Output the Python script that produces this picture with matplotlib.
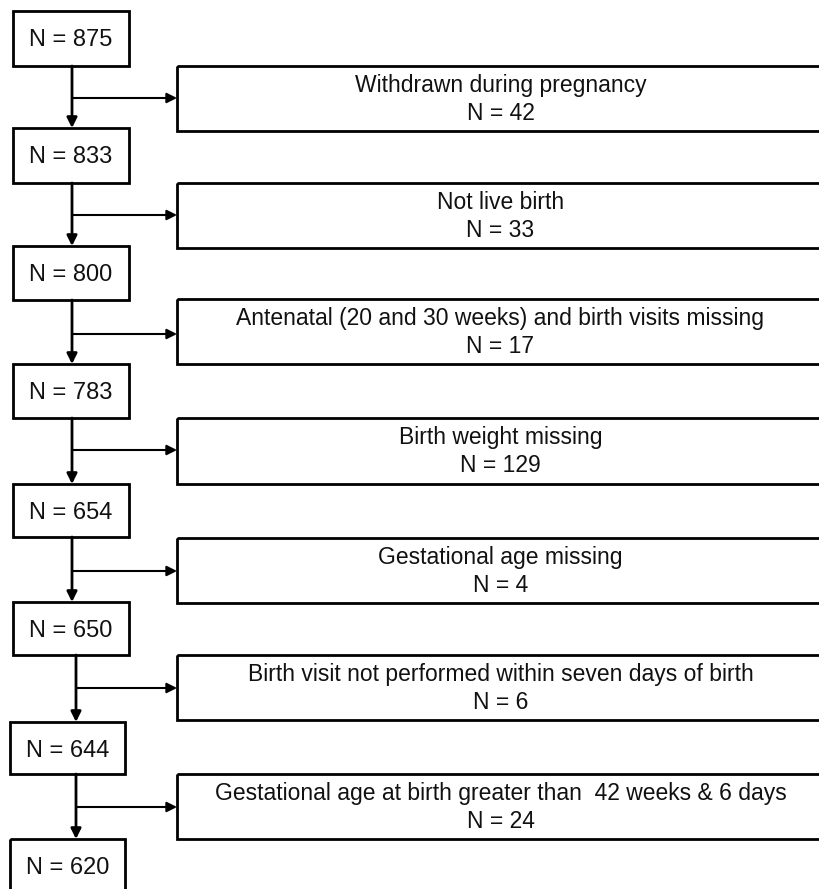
import matplotlib
matplotlib.use("Agg")
import matplotlib.pyplot as plt
from matplotlib.patches import Rectangle, FancyArrowPatch

plt.rcParams['font.family'] = ['Liberation Sans', 'DejaVu Sans']

# ---- data ----
remaining_n = [875, 833, 800, 783, 654, 650, 644, 620]
exclusion_labels = [
    "Withdrawn during pregnancy",
    "Not live birth",
    "Antenatal (20 and 30 weeks) and birth visits missing",
    "Birth weight missing",
    "Gestational age missing",
    "Birth visit not performed within seven days of birth",
    "Gestational age at birth greater than  42 weeks & 6 days",
]
exclusion_n = [42, 33, 17, 129, 4, 6, 24]

# ---- layout (pixel coordinates) ----
W, H = 820, 889
left_top = [11, 128, 246, 364, 484, 602, 722, 839]
left_bot = [66, 183, 300, 418, 537, 655, 774, 900]
left_x0 = [13, 13, 13, 13, 13, 13, 10, 10]
left_x1 = [129, 129, 129, 129, 129, 129, 125, 125]
stem_x = [72, 72, 72, 72, 72, 76, 76]
right_top = [66, 183, 299, 418, 538, 655, 774]
right_bot = [131, 248, 364, 484, 603, 720, 839]
branch_y = [98, 215, 334, 450, 571, 688, 807]
right_x0, right_x1 = 177, 824

fig = plt.figure(figsize=(W / 100, H / 100), dpi=100)
ax = fig.add_axes([0, 0, 1, 1])
ax.set_xlim(0, W)
ax.set_ylim(H, 0)
ax.axis('off')

box_lw = 2.0
for i, n in enumerate(remaining_n):
    x0, x1 = left_x0[i], left_x1[i]
    y0, y1 = left_top[i], left_bot[i]
    ax.add_patch(Rectangle((x0, y0), x1 - x0, y1 - y0, fill=False,
                           edgecolor='black', lw=box_lw, clip_on=True))
    ax.text((x0 + x1) / 2, y0 + 35, f"N = {n}", ha='center', va='baseline',
            fontsize=17, color='#111111')

for i, (lab, n) in enumerate(zip(exclusion_labels, exclusion_n)):
    y0, y1 = right_top[i], right_bot[i]
    ax.add_patch(Rectangle((right_x0, y0), right_x1 - right_x0, y1 - y0,
                           fill=False, edgecolor='black', lw=box_lw, clip_on=True))
    cx = (right_x0 + right_x1) / 2
    ax.text(cx, y0 + 26, lab, ha='center', va='baseline', fontsize=16.5,
            color='#111111')
    ax.text(cx, y0 + 54, f"N = {n}", ha='center', va='baseline', fontsize=16.5,
            color='#111111')

    # vertical connector with arrow into next left box
    sx = stem_x[i]
    ax.add_patch(FancyArrowPatch((sx, left_bot[i]), (sx, left_top[i + 1]),
                                 arrowstyle='-|>,head_length=6,head_width=3',
                                 mutation_scale=1, lw=2.0, color='black',
                                 shrinkA=0, shrinkB=0))
    # horizontal branch into exclusion box
    ax.add_patch(FancyArrowPatch((sx, branch_y[i]), (right_x0, branch_y[i]),
                                 arrowstyle='-|>,head_length=6,head_width=3',
                                 mutation_scale=1, lw=1.5, color='black',
                                 shrinkA=0, shrinkB=0))

fig.savefig("out.png", dpi=100, facecolor='white')
